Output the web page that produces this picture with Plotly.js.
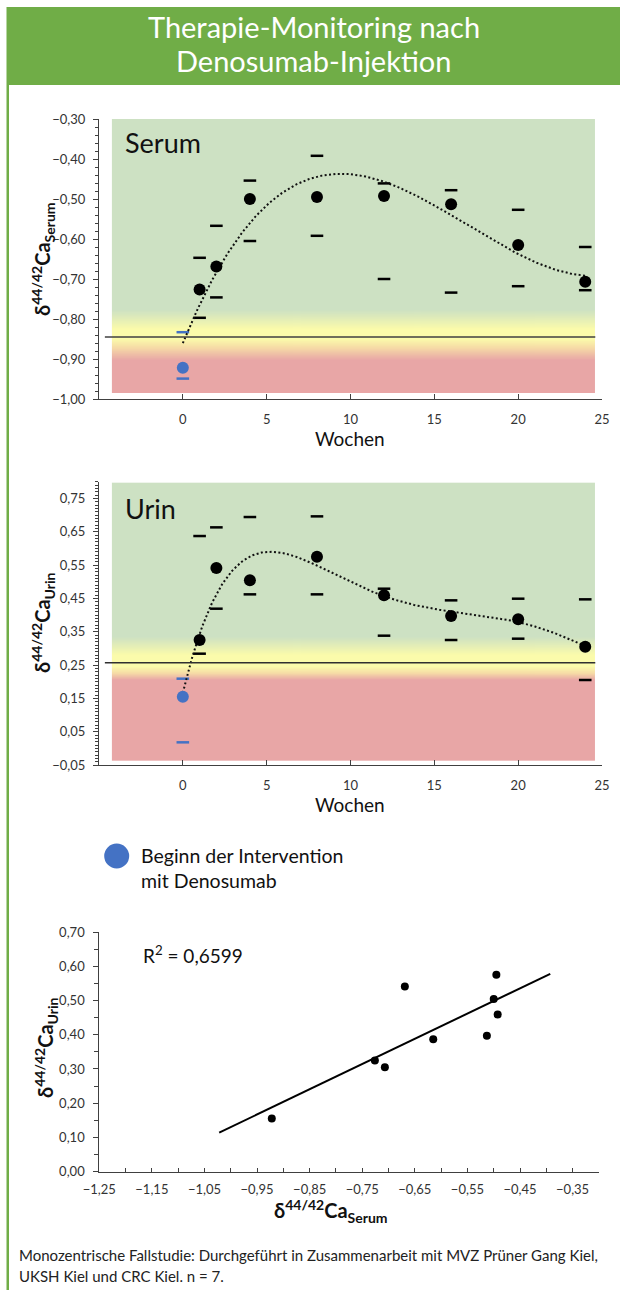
<!DOCTYPE html>
<html><head><meta charset="utf-8">
<script src="https://cdn.plot.ly/plotly-3.0.1.min.js"></script>
<style>html,body{margin:0;padding:0;background:#fff;}#chart{width:620px;height:1290px;}</style>
</head><body><div id="chart"></div>
<script>
// ---- data ----
const weeks = [0, 1, 2, 4, 8, 12, 16, 20, 24];
const weekTicks = [0, 5, 10, 15, 20, 25];
const serumMid  = [-0.922, -0.726, -0.669, -0.500, -0.495, -0.4925, -0.513, -0.615, -0.707];
const serumHigh = [-0.833, -0.647, -0.567, -0.454, -0.392, -0.461, -0.478, -0.527, -0.620];
const serumLow  = [-0.949, -0.797, -0.746, -0.605, -0.592, -0.700, -0.734, -0.718, -0.728];
const urinMid   = [0.155, 0.325, 0.541, 0.504, 0.575, 0.459, 0.397, 0.387, 0.305];
const urinHigh  = [0.209, 0.637, 0.663, 0.694, 0.696, 0.479, 0.444, 0.449, 0.447];
const urinLow   = [0.018, 0.284, 0.419, 0.462, 0.462, 0.338, 0.325, 0.329, 0.205];
const serumLimit = -0.845;
const urinLimit = 0.257;
const serumTrendOrder = 3;   // polynomial trend lines (least squares)
const urinTrendOrder = 5;
const r2Text = 'R<sup>2</sup> = 0,6599';

// ---- helpers ----
const W = 620, H = 1290;
const P = px => px / W, Q = py => 1 - py / H;
const BLUE = '#4472c4', BLACK = '#000000', AX = '#404040', FONT = 'Lato, "Open Sans", sans-serif';
const ptColor = weeks.map(w => w === 0 ? BLUE : BLACK);

function polyfit(xs, ys, deg) {
  const s = 24, n = deg + 1;
  const A = Array.from({length: n}, () => new Array(n + 1).fill(0));
  xs.forEach((x, k) => {
    const u = x / s;
    for (let i = 0; i < n; i++) {
      for (let j = 0; j < n; j++) A[i][j] += Math.pow(u, i + j);
      A[i][n] += ys[k] * Math.pow(u, i);
    }
  });
  for (let c = 0; c < n; c++) {
    let p = c;
    for (let r = c + 1; r < n; r++) if (Math.abs(A[r][c]) > Math.abs(A[p][c])) p = r;
    [A[c], A[p]] = [A[p], A[c]];
    for (let r = 0; r < n; r++) if (r !== c) {
      const f = A[r][c] / A[c][c];
      for (let k = c; k <= n; k++) A[r][k] -= f * A[c][k];
    }
  }
  const coef = A.map((row, i) => row[n] / row[i]);
  return x => coef.reduce((a, c, i) => a + c * Math.pow(x / s, i), 0);
}
function curve(f) {
  const x0 = Math.min(...weeks), x1 = Math.max(...weeks);
  const xs = [], ys = [];
  for (let i = 0; i <= 240; i++) { const x = x0 + (x1 - x0) * i / 240; xs.push(x); ys.push(f(x)); }
  return {xs, ys};
}
function gradImg(top, bottom, stops) {
  const c = document.createElement('canvas'); c.width = 4; c.height = 800;
  const g = c.getContext('2d');
  const lg = g.createLinearGradient(0, 0, 0, 800);
  stops.forEach(([v, col]) => lg.addColorStop(Math.min(1, Math.max(0, (top - v) / (top - bottom))), col));
  g.fillStyle = lg; g.fillRect(0, 0, 4, 800);
  return c.toDataURL();
}
const GREEN = '#cde1c3', YEL = '#fbfbab', PEACH = '#f6dba6', RED = '#e8a6a6';

const traces = [];
function addPanel(xa, ya, mid, high, low, deg) {
  traces.push({x: weeks.concat(weeks), y: high.concat(low), xaxis: xa, yaxis: ya, type: 'scatter', mode: 'markers',
    marker: {symbol: 'line-ew', size: 9, line: {width: 2.5, color: ptColor.concat(ptColor)}}, hoverinfo: 'skip'});
  const c = curve(polyfit(weeks, mid, deg));
  traces.push({x: c.xs, y: c.ys, xaxis: xa, yaxis: ya, type: 'scatter', mode: 'lines',
    line: {color: '#111', width: 2, dash: '2px,2.4px'}, hoverinfo: 'skip'});
  traces.push({x: weeks, y: mid, xaxis: xa, yaxis: ya, type: 'scatter', mode: 'markers',
    marker: {size: 12, color: ptColor}, hoverinfo: 'skip'});
}
addPanel('x', 'y', serumMid, serumHigh, serumLow, serumTrendOrder);
addPanel('x2', 'y2', urinMid, urinHigh, urinLow, urinTrendOrder);

// linear regression (trend with 0.1 forecast each side)
const n = serumMid.length;
const mx = serumMid.reduce((a, b) => a + b) / n, my = urinMid.reduce((a, b) => a + b) / n;
let sxy = 0, sxx = 0;
serumMid.forEach((x, i) => { sxy += (x - mx) * (urinMid[i] - my); sxx += (x - mx) ** 2; });
const slope = sxy / sxx, icpt = my - slope * mx;
const rx0 = Math.min(...serumMid) - 0.1, rx1 = Math.max(...serumMid) + 0.1;
traces.push({x: [rx0, rx1], y: [icpt + slope * rx0, icpt + slope * rx1], xaxis: 'x3', yaxis: 'y3', type: 'scatter', mode: 'lines',
  line: {color: BLACK, width: 2}, hoverinfo: 'skip'});
traces.push({x: serumMid, y: urinMid, xaxis: 'x3', yaxis: 'y3', type: 'scatter', mode: 'markers',
  marker: {size: 8, color: BLACK}, hoverinfo: 'skip'});

const tickFont = {family: FONT, size: 13, color: '#333'};
function xAx(dom, anchor) {
  return {domain: dom, anchor: anchor, range: [-5, 25], tickmode: 'array', tickvals: weekTicks, ticktext: weekTicks.map(String),
    ticks: 'inside', ticklen: 5, tickcolor: AX, showline: true, linecolor: AX, linewidth: 1, showgrid: false, zeroline: false,
    tickfont: tickFont, ticklabelstandoff: 8, fixedrange: true};
}
function yAx(dom, anchor, range, tick0, minorD) {
  return {domain: dom, anchor: anchor, range: range, tick0: tick0, dtick: 0.1, tickformat: '.2f',
    ticks: 'outside', ticklen: 5, tickcolor: AX, showline: true, linecolor: AX, linewidth: 1, showgrid: false, zeroline: false,
    minor: {dtick: minorD, tick0: tick0, ticks: 'outside', ticklen: 3, tickcolor: AX, showgrid: false},
    tickfont: tickFont, ticklabelstandoff: 5, fixedrange: true};
}

const yTitle = sub => '<b>δ<sup>44/42</sup>Ca<sub>' + sub + '</sub></b>';
const ann = (text, x, y, opts) => Object.assign({text: text, x: P(x), y: Q(y), xref: 'paper', yref: 'paper', showarrow: false,
  xanchor: 'center', yanchor: 'middle', font: {family: FONT, size: 13, color: '#111'}}, opts || {});

const layout = {
  width: W, height: H, margin: {l: 0, r: 0, t: 0, b: 0}, paper_bgcolor: '#fff', plot_bgcolor: 'rgba(0,0,0,0)',
  showlegend: false, separators: ',.',
  xaxis: xAx([99 / W, 602 / W], 'y'),
  yaxis: yAx([Q(399), Q(119)], 'x', [-1.0, -0.30], -1.0, 0.02),
  xaxis2: xAx([99 / W, 602 / W], 'y2'),
  yaxis2: yAx([Q(765), Q(481.7)], 'x2', [-0.05, 0.80], -0.05, 0.01),
  xaxis3: {domain: [99.3 / W, 598.9 / W], anchor: 'y3', range: [-1.25, -0.30], tick0: -1.25, dtick: 0.1, tickformat: '.2f',
    ticks: 'inside', ticklen: 4, tickcolor: AX, showline: true, linecolor: AX, linewidth: 1, showgrid: false, zeroline: false,
    minor: {dtick: 0.05, tick0: -1.25, ticks: 'inside', ticklen: 4, tickcolor: AX, showgrid: false},
    tickfont: tickFont, ticklabelstandoff: 6, fixedrange: true},
  yaxis3: {domain: [Q(1171.7), Q(932)], anchor: 'x3', range: [0, 0.70], dtick: 0.1, tickformat: '.2f',
    ticks: 'outside', ticklen: 5, tickcolor: AX, showline: true, linecolor: AX, linewidth: 1, showgrid: false, zeroline: false,
    minor: {dtick: 0.05, ticks: 'outside', ticklen: 4, tickcolor: AX, showgrid: false},
    tickfont: tickFont, ticklabelstandoff: 6, fixedrange: true},
  images: [
    {source: gradImg(-0.2925, -0.985, [[-0.2925, GREEN], [-0.777, GREEN], [-0.825, YEL], [-0.85, YEL], [-0.872, PEACH], [-0.903, RED], [-0.985, RED]]),
      xref: 'x', yref: 'y', x: -4.23, y: -0.2925, sizex: 28.81, sizey: 0.6925, sizing: 'stretch', xanchor: 'left', yanchor: 'top', layer: 'below'},
    {source: gradImg(0.797, -0.037, [[0.797, GREEN], [0.335, GREEN], [0.28, YEL], [0.245, YEL], [0.225, PEACH], [0.205, RED], [-0.037, RED]]),
      xref: 'x2', yref: 'y2', x: -4.23, y: 0.797, sizex: 28.81, sizey: 0.834, sizing: 'stretch', xanchor: 'left', yanchor: 'top', layer: 'below'}
  ],
  shapes: [
    {type: 'rect', xref: 'paper', yref: 'paper', x0: P(7), x1: 1, y0: Q(85), y1: Q(7), fillcolor: '#70ad47', line: {width: 0}},
    {type: 'rect', xref: 'paper', yref: 'paper', x0: P(6.5), x1: P(9), y0: 0, y1: Q(7), fillcolor: '#70ad47', line: {width: 0}},
    {type: 'line', xref: 'x', yref: 'y', x0: -4.65, x1: 24.6, y0: serumLimit, y1: serumLimit, line: {color: '#404040', width: 1.5}},
    {type: 'line', xref: 'x2', yref: 'y2', x0: -4.65, x1: 24.6, y0: urinLimit, y1: urinLimit, line: {color: '#303030', width: 1.5}},
    {type: 'circle', xref: 'paper', yref: 'paper', x0: P(104.2), x1: P(129.2), y0: Q(868.5), y1: Q(843.5), fillcolor: BLUE, line: {width: 0}}
  ],
  annotations: [
    ann('Therapie-Monitoring nach', 313.5, 26, {font: {family: FONT, size: 29, color: '#fff'}}),
    ann('Denosumab-Injektion', 313.5, 60.5, {font: {family: FONT, size: 29, color: '#fff'}}),
    ann('Serum', 123, 142.7, {xanchor: 'left', font: {family: FONT, size: 27, color: '#111'}}),
    ann('Urin', 123, 508.5, {xanchor: 'left', font: {family: FONT, size: 27, color: '#111'}}),
    ann('Wochen', 350, 438.5, {font: {family: FONT, size: 19, color: '#111'}}),
    ann('Wochen', 350, 804, {font: {family: FONT, size: 19, color: '#111'}}),
    ann(yTitle('Serum'), 43, 259, {textangle: -90, font: {family: FONT, size: 20, color: '#111'}}),
    ann(yTitle('Urin'), 43, 623, {textangle: -90, font: {family: FONT, size: 20, color: '#111'}}),
    ann(yTitle('Urin'), 46, 1048, {textangle: -90, font: {family: FONT, size: 20, color: '#111'}}),
    ann(yTitle('Serum'), 331, 1211, {font: {family: FONT, size: 20, color: '#111'}}),
    ann(r2Text, 193, 954, {font: {family: FONT, size: 19, color: '#111'}}),
    ann('Beginn der Intervention', 139, 855, {xanchor: 'left', font: {family: FONT, size: 19.5, color: '#111'}}),
    ann('mit Denosumab', 139, 880, {xanchor: 'left', font: {family: FONT, size: 19.5, color: '#111'}}),
    ann('Monozentrische Fallstudie: Durchgeführt in Zusammenarbeit mit MVZ Prüner Gang Kiel,', 17, 1255, {xanchor: 'left', font: {family: FONT, size: 15, color: '#222'}}),
    ann('UKSH Kiel und CRC Kiel. n = 7.', 17, 1276, {xanchor: 'left', font: {family: FONT, size: 15, color: '#222'}})
  ]
};
Plotly.newPlot('chart', traces, layout, {staticPlot: true, displayModeBar: false});
</script></body></html>
